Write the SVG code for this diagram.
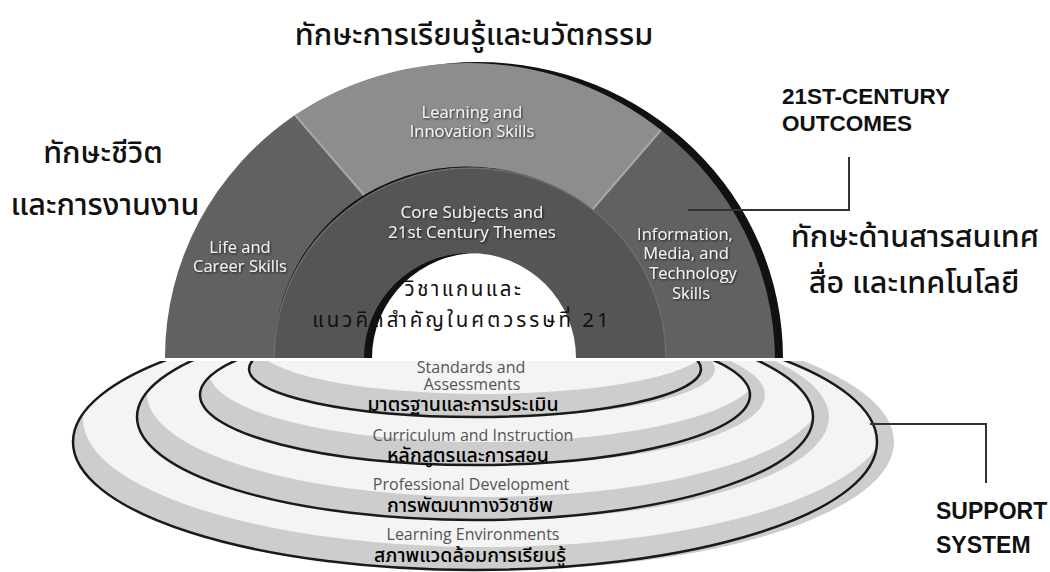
<svg xmlns="http://www.w3.org/2000/svg" width="1050" height="572" viewBox="0 0 1050 572">
<defs>
<style>
.th{font-family:"Noto Sans Thai","Noto Sans",sans-serif;fill:#111;text-anchor:middle}
.big{font-size:30.5px;font-weight:500}
.en{font-family:"Open Sans",Lato,sans-serif;text-anchor:middle}
.arch{fill:#f2f2f2;filter:url(#sh)}
.base{fill:#555;font-size:16px}
.bth{font-size:19.5px;font-weight:500;fill:#000}
.hd{font-family:"Liberation Sans",Arial,sans-serif;font-weight:bold;fill:#111}
.wb{fill:#f4f4f4}
.gb{fill:#cdcdcd}
.bl{fill:none;stroke:#1a1a1a;stroke-width:2.5}
.con{fill:none;stroke:#333;stroke-width:2}
</style>
<filter id="sh" x="-10%" y="-30%" width="120%" height="160%">
<feDropShadow dx="1" dy="1" stdDeviation="0.8" flood-color="#000" flood-opacity="0.75"/>
</filter>
<clipPath id="below"><rect x="0" y="361" width="1050" height="211"/></clipPath>
<clipPath id="c4"><ellipse cx="475" cy="442" rx="402" ry="128"/></clipPath>
<clipPath id="c3"><ellipse cx="475" cy="417" rx="338" ry="103"/></clipPath>
<clipPath id="c2"><ellipse cx="475" cy="395" rx="275" ry="70"/></clipPath>
<clipPath id="c1"><ellipse cx="475" cy="369" rx="226" ry="48"/></clipPath>
</defs>
<rect width="1050" height="572" fill="#fff"/>

<g id="support-rings" clip-path="url(#below)">
  <g id="ring-environments">
    <ellipse class="gb" cx="492" cy="442" rx="402" ry="128"/>
    <ellipse class="gb" cx="475" cy="442" rx="402" ry="128"/>
    <ellipse class="wb" cx="485" cy="419" rx="402" ry="128" clip-path="url(#c4)"/>
    <ellipse class="bl" cx="475" cy="442" rx="402" ry="128"/>
  </g>
  <g id="ring-professional">
    <ellipse class="gb" cx="491" cy="417" rx="338" ry="103"/>
    <ellipse class="gb" cx="475" cy="417" rx="338" ry="103"/>
    <ellipse class="wb" cx="485" cy="394" rx="338" ry="103" clip-path="url(#c3)"/>
    <ellipse class="bl" cx="475" cy="417" rx="338" ry="103"/>
  </g>
  <g id="ring-curriculum">
    <ellipse class="gb" cx="490" cy="395" rx="275" ry="70"/>
    <ellipse class="gb" cx="475" cy="395" rx="275" ry="70"/>
    <ellipse class="wb" cx="484" cy="372" rx="275" ry="70" clip-path="url(#c2)"/>
    <ellipse class="bl" cx="475" cy="395" rx="275" ry="70"/>
  </g>
  <g id="ring-standards">
    <ellipse class="gb" cx="489" cy="369" rx="226" ry="48"/>
    <ellipse class="gb" cx="475" cy="369" rx="226" ry="48"/>
    <ellipse class="wb" cx="483" cy="346" rx="226" ry="48" clip-path="url(#c1)"/>
    <ellipse class="bl" cx="475" cy="369" rx="226" ry="48"/>
  </g>
</g>

<g id="arch">
  <path d="M173,358 A305,296 0 0 1 783,358 L584,358 A106,105 0 0 0 372,358 Z" fill="#111"/>
  <g id="life-career">
    <path d="M165,358 A305,296 0 0 1 295,115 L364,195 A196,190 0 0 0 274,358 Z" fill="#616161"/>
    <text class="en arch" x="240" y="253" font-size="16.5">Life and</text>
    <text class="en arch" x="240" y="272" font-size="16.5">Career Skills</text>
  </g>
  <g id="learning-innovation">
    <path d="M295,115 A305,296 0 0 1 661,130 L592,210 A196,190 0 0 0 364,195 Z" fill="#8d8d8d"/>
    <text class="en arch" x="472" y="118" font-size="16.5">Learning and</text>
    <text class="en arch" x="472" y="137" font-size="16.5">Innovation Skills</text>
  </g>
  <g id="info-media">
    <path d="M661,130 A305,296 0 0 1 775,358 L666,358 A196,190 0 0 0 592,210 Z" fill="#616161"/>
    <text class="en arch" x="685" y="240" font-size="16.5">Information,</text>
    <text class="en arch" x="686" y="259" font-size="16.5">Media, and</text>
    <text class="en arch" x="693" y="279" font-size="16.5">Technology</text>
    <text class="en arch" x="691" y="299" font-size="16.5">Skills</text>
  </g>
  <path d="M295,115 L364,195 M661,130 L592,210" stroke="#a8a8a8" stroke-width="2" fill="none"/>
  <g id="core-subjects">
    <path d="M274,358 A196,190 0 0 1 666,358 L576,358 A106,105 0 0 0 364,358 Z" fill="#555"/>
    <path d="M274,358 A196,190 0 0 1 666,358" stroke="#6e6e6e" stroke-width="1.5" fill="none"/>
    <text class="en arch" x="472" y="218" font-size="17">Core Subjects and</text>
    <text class="en arch" x="472" y="238" font-size="17">21st Century Themes</text>
    <text class="th" x="464" y="296" font-size="20.5" letter-spacing="2.5">วิชาแกนและ</text>
    <text class="th" x="462" y="327" font-size="20.5" letter-spacing="3">แนวคิดสำคัญในศตวรรษที่ 21</text>
  </g>
</g>

<g id="connectors">
  <polyline class="con" points="688,210 849,210 849,157"/>
  <polyline class="con" points="870,424 986,424 986,483"/>
</g>

<g id="title">
  <text class="th big" x="474" y="45">ทักษะการเรียนรู้และนวัตกรรม</text>
</g>
<g id="life-career-label">
  <text class="th big" x="103" y="163">ทักษะชีวิต</text>
  <text class="th big" x="105" y="215">และการงานงาน</text>
</g>
<g id="info-media-label">
  <text class="th big" x="915" y="247">ทักษะด้านสารสนเทศ</text>
  <text class="th big" x="914" y="293">สื่อ และเทคโนโลยี</text>
</g>
<g id="outcomes-label">
  <text class="hd" x="782" y="104" font-size="22.5">21ST-CENTURY</text>
  <text class="hd" x="782" y="131" font-size="22.5">OUTCOMES</text>
</g>
<g id="support-label">
  <text class="hd" x="936" y="519" font-size="23">SUPPORT</text>
  <text class="hd" x="936" y="553" font-size="23">SYSTEM</text>
</g>

<g id="standards">
  <text class="en base" x="471" y="373">Standards and</text>
  <text class="en base" x="472" y="390">Assessments</text>
  <text class="th bth" x="463" y="411">มาตรฐานและการประเมิน</text>
</g>
<g id="curriculum">
  <text class="en base" x="473" y="441">Curriculum and Instruction</text>
  <text class="th bth" x="468" y="462">หลักสูตรและการสอน</text>
</g>
<g id="professional">
  <text class="en base" x="471" y="490">Professional Development</text>
  <text class="th bth" x="470" y="512">การพัฒนาทางวิชาชีพ</text>
</g>
<g id="environments">
  <text class="en base" x="473" y="540">Learning Environments</text>
  <text class="th bth" x="470" y="562">สภาพแวดล้อมการเรียนรู้</text>
</g>
</svg>
